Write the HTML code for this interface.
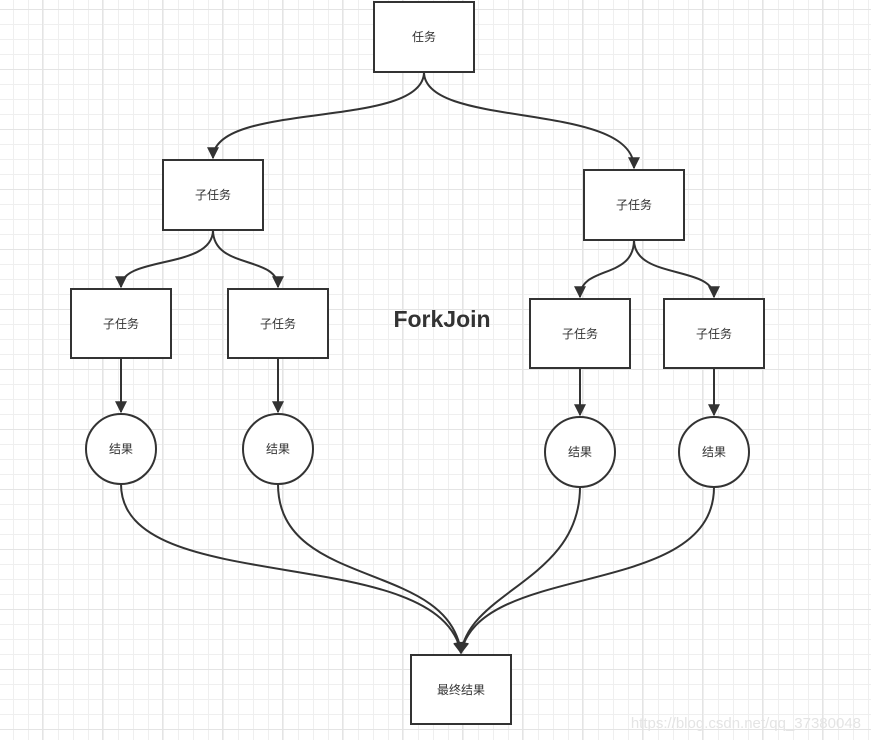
<!DOCTYPE html>
<html><head><meta charset="utf-8"><style>
html,body{margin:0;padding:0;width:871px;height:740px;overflow:hidden;background:#fff}
</style></head><body>
<svg width="871" height="740" xmlns="http://www.w3.org/2000/svg" font-family="'Liberation Sans','Noto Sans CJK SC',sans-serif">
<defs>
<pattern id="g" x="13" y="9" width="15" height="15" patternUnits="userSpaceOnUse"><path d="M0,0.5H15M0.5,0V15" stroke="#efefef" stroke-width="1" fill="none"/></pattern>
<pattern id="G" x="42" y="9" width="60" height="60" patternUnits="userSpaceOnUse"><path d="M0,0.5H60M0.5,0V60" stroke="#e4e4e4" stroke-width="1" fill="none"/></pattern>
<marker id="a" viewBox="0 0 10 10" refX="9" refY="5" markerWidth="7" markerHeight="6" markerUnits="strokeWidth" orient="auto"><path d="M0,0L10,5L0,10z" fill="#333"/></marker>
</defs>
<rect width="871" height="740" fill="url(#g)"/>
<rect width="871" height="740" fill="url(#G)"/>
<g fill="none" stroke="#333" stroke-width="2">
<path d="M424,72 C424,130 213,100 213,158" marker-end="url(#a)"/>
<path d="M424,72 C424,130 634,100 634,168" marker-end="url(#a)"/>
<path d="M213,230 C213,270 121,255 121,287" marker-end="url(#a)"/>
<path d="M213,230 C213,270 278,255 278,287" marker-end="url(#a)"/>
<path d="M634,240 C634,280 580,265 580,297" marker-end="url(#a)"/>
<path d="M634,240 C634,280 714,265 714,297" marker-end="url(#a)"/>
<path d="M121,358V412" marker-end="url(#a)"/>
<path d="M278,358V412" marker-end="url(#a)"/>
<path d="M580,368V415" marker-end="url(#a)"/>
<path d="M714,368V415" marker-end="url(#a)"/>
<path d="M121,484 C121,600 440,540 461,653" marker-end="url(#a)"/>
<path d="M278,484 C278,590 450,560 461,653" marker-end="url(#a)"/>
<path d="M580,487 C580,580 470,590 461,653" marker-end="url(#a)"/>
<path d="M714,487 C714,600 480,560 461,653" marker-end="url(#a)"/>
</g>
<g fill="#fff" stroke="#333" stroke-width="2">
<rect x="374" y="2" width="100" height="70"/>
<rect x="163" y="160" width="100" height="70"/>
<rect x="584" y="170" width="100" height="70"/>
<rect x="71" y="289" width="100" height="69"/>
<rect x="228" y="289" width="100" height="69"/>
<rect x="530" y="299" width="100" height="69"/>
<rect x="664" y="299" width="100" height="69"/>
<circle cx="121" cy="449" r="35"/>
<circle cx="278" cy="449" r="35"/>
<circle cx="580" cy="452" r="35"/>
<circle cx="714" cy="452" r="35"/>
<rect x="411" y="655" width="100" height="69"/>
</g>
<g font-size="12" fill="#333" text-anchor="middle">
<text x="424" y="41">任务</text>
<text x="213" y="199">子任务</text>
<text x="634" y="209">子任务</text>
<text x="121" y="328">子任务</text>
<text x="278" y="328">子任务</text>
<text x="580" y="338">子任务</text>
<text x="714" y="338">子任务</text>
<text x="121" y="453">结果</text>
<text x="278" y="453">结果</text>
<text x="580" y="456">结果</text>
<text x="714" y="456">结果</text>
<text x="461" y="694">最终结果</text>
</g>
<text x="442" y="327" font-size="23" font-weight="bold" fill="#333" text-anchor="middle">ForkJoin</text>
<text x="861" y="728" font-size="15" fill="#e4e4e4" text-anchor="end">https://blog.csdn.net/qq_37380048</text>
</svg>
</body></html>
